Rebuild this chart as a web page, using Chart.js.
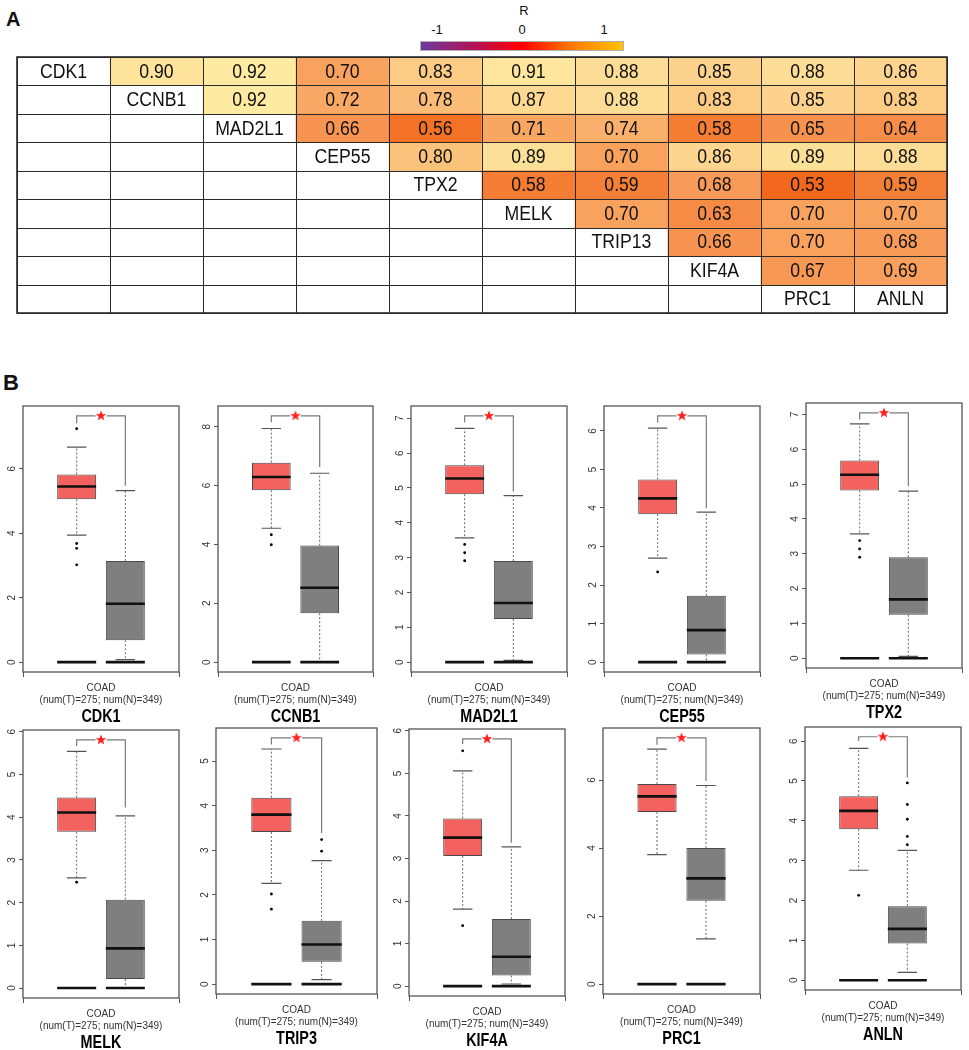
<!DOCTYPE html>
<html><head><meta charset="utf-8">
<script src="https://cdn.jsdelivr.net/npm/chart.js@4.4.1/dist/chart.umd.min.js"></script>
<style>
html,body{margin:0;padding:0;background:#fff;width:969px;height:1050px;overflow:hidden;font-family:'Liberation Sans',Arial,sans-serif;}
.abs{position:absolute;}
.lbl{position:absolute;color:#111;text-align:center;}
</style></head><body>
<div class="lbl" style="left:6px;top:8px;font-size:20px;font-weight:bold;">A</div>
<div class="lbl" style="left:3px;top:370px;font-size:22px;font-weight:bold;">B</div>
<div class="lbl" style="left:504px;top:3px;width:40px;font-size:13px;">R</div>
<div class="lbl" style="left:417px;top:22px;width:40px;font-size:13px;">-1</div>
<div class="lbl" style="left:502px;top:22px;width:40px;font-size:13px;">0</div>
<div class="lbl" style="left:584px;top:22px;width:40px;font-size:13px;">1</div>
<div class="abs" style="left:420px;top:41px;width:202px;height:8px;border:1px solid #b0b0b0;background:linear-gradient(to right,#6b3a9c 0%,#b0135a 25%,#ff0000 50%,#ff7a00 75%,#ffc40a 100%);"></div>
<div class="abs" style="left:16px;top:56px;width:932px;height:258px;"><canvas id="heat"></canvas></div>
<script>
// ---------- Panel A data ----------
const GENES_A = ['CDK1','CCNB1','MAD2L1','CEP55','TPX2','MELK','TRIP13','KIF4A','PRC1','ANLN'];
const LABEL_ROW = [0,1,2,3,4,5,6,7,8,8];
const CORR_ROWS = [
  [0.90,0.92,0.70,0.83,0.91,0.88,0.85,0.88,0.86],
  [0.92,0.72,0.78,0.87,0.88,0.83,0.85,0.83],
  [0.66,0.56,0.71,0.74,0.58,0.65,0.64],
  [0.80,0.89,0.70,0.86,0.89,0.88],
  [0.58,0.59,0.68,0.53,0.59],
  [0.70,0.63,0.70,0.70],
  [0.66,0.70,0.68],
  [0.67,0.69]
];

// ---------- Panel B data ----------
const GENES_B = ['CDK1','CCNB1','MAD2L1','CEP55','TPX2','MELK','TRIP3','KIF4A','PRC1','ANLN'];
const XLABEL = ['COAD','(num(T)=275; num(N)=349)'];
const T_LO  = [3.94,4.55,3.57,2.70,3.57,2.58,2.26,1.81,3.81,2.76];
const T_Q1  = [5.05,5.84,4.82,3.84,4.82,3.66,3.41,3.06,5.06,3.79];
const T_MED = [5.45,6.29,5.27,4.25,5.27,4.11,3.80,3.49,5.52,4.25];
const T_Q3  = [5.82,6.78,5.65,4.74,5.68,4.46,4.18,3.94,5.88,4.62];
const T_HI  = [6.67,7.94,6.71,6.07,6.73,5.54,5.27,5.06,6.91,5.82];
const N_LO  = [0.08,0.02,0.05,0.00,0.05,0.00,0.10,0.05,1.33,0.20];
const N_Q1  = [0.68,1.66,1.24,0.20,1.25,0.21,0.50,0.25,2.45,0.92];
const N_MED = [1.81,2.53,1.70,0.83,1.69,0.93,0.89,0.69,3.11,1.29];
const N_Q3  = [3.14,3.96,2.90,1.72,2.90,2.07,1.42,1.58,4.00,1.86];
const N_HI  = [5.32,6.42,4.78,3.89,4.80,4.03,2.77,3.27,5.84,3.26];
const T_OUT = [[7.24,3.68,3.53,3.02],[4.33,3.99],[3.38,3.14,2.91],[2.34],[3.38,3.14,2.90],[2.48],[2.02,1.68],[5.53,1.42],[],[2.13]];
const N_OUT = [[],[],[],[],[],[],[3.24,2.98],[],[],[4.95,4.41,4.04,3.61,3.40]];
const SIG_TOP = [7.64,8.37,7.07,6.39,7.05,5.81,5.52,5.81,7.24,6.11];
const SIG_T   = [7.41,8.15,6.88,6.22,6.86,5.67,5.37,5.69,7.04,6.00];
const SIG_N   = [5.47,6.63,4.90,3.99,4.94,4.23,3.39,3.37,5.97,5.09];
const Y_TICKS = [[0,2,4,6],[0,2,4,6,8],[0,1,2,3,4,5,6,7],[0,1,2,3,4,5,6],[0,1,2,3,4,5,6,7],
                 [0,1,2,3,4,5,6],[0,1,2,3,4,5],[0,1,2,3,4,5,6],[0,2,4,6],[0,1,2,3,4,5,6]];

// ---------- layout / style ----------
const FRAMES = [[23,403,183,672],[218,403,377,672],[411,403,571,672],[604,403,764,672],[806,400,966,668],
                [23,727,183,998],[216,725,381,994],[409,726,569,996],[603,725,764,994],[805,724,965,990]];
const POS_T = 0.344, POS_N = 0.656, HALF = 0.125, CAP = 0.0625;
const HEAT_STOPS = [[0.53,'#f2691e'],[0.56,'#f47226'],[0.58,'#f47c33'],[0.66,'#f79452'],[0.70,'#f8a25e'],
                    [0.74,'#f9b06b'],[0.80,'#fbc27b'],[0.85,'#fdd28c'],[0.88,'#fddc95'],[0.92,'#feeaa0']];
Chart.defaults.font.family = "'Liberation Sans', Arial, sans-serif";

function hex(c){return [1,3,5].map(k=>parseInt(c.substr(k,2),16));}
function heat(v){
  const s = HEAT_STOPS;
  if (v <= s[0][0]) return s[0][1];
  for (let k=1;k<s.length;k++){
    if (v <= s[k][0]){
      const t=(v-s[k-1][0])/(s[k][0]-s[k-1][0]);
      const a=hex(s[k-1][1]), b=hex(s[k][1]);
      return 'rgb('+a.map((x,j)=>Math.round(x+(b[j]-x)*t)).join(',')+')';
    }
  }
  return s[s.length-1][1];
}

// ---------- Panel A chart ----------
const cellData = [];
CORR_ROWS.forEach((row,r)=>row.forEach((v,j)=>cellData.push({x:r+1+j+0.5,y:[r,r+1],v:v})));
const labelData = GENES_A.map((g,c)=>({x:c+0.5,y:[LABEL_ROW[c],LABEL_ROW[c]+1],g:g}));

const tablePlugin = {id:'table', afterDatasetsDraw(chart){
  const ctx=chart.ctx, sx=chart.scales.x, sy=chart.scales.y, a=chart.chartArea;
  ctx.save();
  ctx.strokeStyle='#2a2a2a'; ctx.lineWidth=1;
  for(let c=0;c<=10;c++){const x=Math.round(sx.getPixelForValue(c))+0.5;ctx.beginPath();ctx.moveTo(x,a.top);ctx.lineTo(x,a.bottom);ctx.stroke();}
  for(let r=0;r<=9;r++){const y=Math.round(sy.getPixelForValue(r))+0.5;ctx.beginPath();ctx.moveTo(a.left,y);ctx.lineTo(a.right,y);ctx.stroke();}
  ctx.lineWidth=1.6; ctx.strokeRect(a.left,a.top,a.right-a.left,a.bottom-a.top);
  ctx.fillStyle='#111'; ctx.textAlign='center'; ctx.textBaseline='middle';
  ctx.font="19px 'Liberation Sans', Arial";
  const put=(t,x,y)=>{ctx.save();ctx.translate(x,y);ctx.scale(0.93,1.05);ctx.fillText(t,0,0);ctx.restore();};
  cellData.forEach(d=>put(d.v.toFixed(2),sx.getPixelForValue(d.x),sy.getPixelForValue(d.y[0]+0.5)+1));
  labelData.forEach(d=>put(d.g,sx.getPixelForValue(d.x),sy.getPixelForValue(d.y[0]+0.5)+1));
  ctx.restore();
}};

new Chart(document.getElementById('heat'),{
  type:'bar',
  data:{datasets:[
    {data:cellData,backgroundColor:c=>c.raw?heat(c.raw.v):'#fff',grouped:false,categoryPercentage:1,barPercentage:1,borderWidth:0,borderSkipped:false},
    {data:labelData,backgroundColor:'#ffffff',grouped:false,categoryPercentage:1,barPercentage:1,borderWidth:0,borderSkipped:false}
  ]},
  options:{responsive:true,maintainAspectRatio:false,animation:false,
    layout:{padding:1},
    plugins:{legend:{display:false},tooltip:{enabled:false}},
    scales:{
      x:{type:'linear',min:0,max:10,display:false,offset:false,ticks:{stepSize:1}},
      y:{type:'linear',min:0,max:9,reverse:true,display:false,ticks:{stepSize:1}}
    }},
  plugins:[tablePlugin]
});

// ---------- Panel B charts ----------
function starImg(){
  const c=document.createElement('canvas'); c.width=c.height=12;
  const g=c.getContext('2d'); g.fillStyle='#ff1f1f'; g.beginPath();
  for(let k=0;k<10;k++){const r=k%2?2.3:5.6;const a=-Math.PI/2+k*Math.PI/5;g.lineTo(6+r*Math.cos(a),6+r*Math.sin(a));}
  g.closePath(); g.fill(); return c;
}
const STAR = starImg();

const framePlugin = {id:'frame', afterDraw(chart){
  const ctx=chart.ctx, a=chart.chartArea, s=chart.scales.y;
  ctx.save();
  ctx.strokeStyle='#555'; ctx.lineWidth=1.3;
  ctx.strokeRect(a.left,a.top,a.right-a.left,a.bottom-a.top);
  ctx.fillStyle='#333'; ctx.font="10px 'Liberation Sans', Arial"; ctx.textAlign='center'; ctx.textBaseline='middle';
  s.ticks.forEach(t=>{const y=s.getPixelForValue(t.value);ctx.save();ctx.translate(a.left-11,y);ctx.rotate(-Math.PI/2);ctx.fillText(String(t.value),0,0);ctx.restore();});
  const name=chart.options.plugins.frame.name;
  ctx.fillStyle='#000'; ctx.font="bold 18px 'Liberation Sans', Arial";
  ctx.translate((a.left+a.right)/2, a.bottom+45); ctx.scale(0.8,1.05);
  ctx.fillText(name,0,0);
  ctx.restore();
}};

function lineDs(data,color,width,order,dash){
  return {type:'line',data:data,borderColor:color,borderWidth:width,pointRadius:0,borderDash:dash||[],spanGaps:false,order:order,fill:false,tension:0};
}

function makeBox(i){
  const [L,T,R,B]=FRAMES[i];
  const padTop=4, yW=23, padR=3, xH=40, bottomPad=16;
  const w=yW+(R-L)+padR, h=padTop+(B-T)+xH+bottomPad;
  const div=document.createElement('div'); div.className='abs';
  div.style.cssText='left:'+(L-yW)+'px;top:'+(T-padTop)+'px;width:'+w+'px;height:'+h+'px;';
  const cv=document.createElement('canvas'); div.appendChild(cv); document.body.appendChild(div);
  const xt=POS_T, xn=POS_N;
  const gap=(x)=>({x:x,y:null});
  const whisk=[{x:xt,y:T_Q3[i]},{x:xt,y:T_HI[i]},gap(xt),{x:xt,y:T_Q1[i]},{x:xt,y:T_LO[i]},gap(xt),
               {x:xn,y:N_Q3[i]},{x:xn,y:N_HI[i]},gap(xn),{x:xn,y:N_Q1[i]},{x:xn,y:N_LO[i]}];
  const capSeg=(x,y)=>[{x:x-CAP,y:y},{x:x+CAP,y:y},gap(x)];
  const caps=[].concat(capSeg(xt,T_HI[i]),capSeg(xt,T_LO[i]),capSeg(xn,N_HI[i]),capSeg(xn,N_LO[i]));
  const hSeg=(x,y)=>[{x:x-HALF,y:y},{x:x+HALF,y:y},gap(x)];
  const meds=[].concat(hSeg(xt,T_MED[i]),hSeg(xn,N_MED[i]));
  const zeros=[].concat(hSeg(xt,0),hSeg(xn,0));
  const bracket=[{x:xt,y:SIG_T[i]},{x:xt,y:SIG_TOP[i]},{x:0.465,y:SIG_TOP[i]},gap(0.5),
                 {x:0.535,y:SIG_TOP[i]},{x:xn,y:SIG_TOP[i]},{x:xn,y:SIG_N[i]}];
  const outs=T_OUT[i].map(v=>({x:xt,y:v})).concat(N_OUT[i].map(v=>({x:xn,y:v})));
  new Chart(cv,{
    type:'bar',
    data:{datasets:[
      {type:'bar',data:[{x:xt,y:[T_Q1[i],T_Q3[i]]},{x:xn,y:[N_Q1[i],N_Q3[i]]}],
       backgroundColor:['#f4625f','#7f7f7f'],borderColor:'#4a4a4a',borderWidth:1,borderSkipped:false,
       categoryPercentage:1,barPercentage:0.8,order:10},
      lineDs(whisk,'#666',1,11,[2,2]),
      lineDs(caps,'#555',1.2,9),
      lineDs(zeros,'#111',2.6,8),
      lineDs(meds,'#111',2.6,7),
      {type:'scatter',data:outs,pointRadius:1.4,pointBackgroundColor:'#000',pointBorderWidth:0,order:6},
      lineDs(bracket,'#7a7a7a',1.2,5),
      {type:'scatter',data:[{x:0.5,y:SIG_TOP[i]}],pointStyle:STAR,pointRadius:6,order:4}
    ]},
    options:{responsive:true,maintainAspectRatio:false,animation:false,
      layout:{padding:{left:0,right:padR,top:padTop,bottom:bottomPad}},
      plugins:{legend:{display:false},tooltip:{enabled:false},frame:{name:GENES_B[i]}},
      scales:{
        x:{type:'linear',min:0,max:1,offset:false,
           afterBuildTicks:s=>{s.ticks=[{value:0.5}];},
           afterFit:s=>{s.height=xH;},
           ticks:{callback:()=>XLABEL,font:{size:10,lineHeight:1.2},color:'#333',padding:5,maxRotation:0,minRotation:0,autoSkip:false},
           grid:{display:true,drawOnChartArea:false,drawTicks:true,tickLength:5,color:'#555'},
           border:{display:false}},
        y:{type:'linear',min:-0.04*SIG_TOP[i],max:1.04*SIG_TOP[i],
           afterBuildTicks:s=>{s.ticks=Y_TICKS[i].map(v=>({value:v}));},
           afterFit:s=>{s.width=yW;},
           ticks:{display:false},
           grid:{display:true,drawOnChartArea:false,drawTicks:true,tickLength:4,color:'#555'},
           border:{display:false}}
      }},
    plugins:[framePlugin]
  });
}
for(let i=0;i<GENES_B.length;i++) makeBox(i);
</script>
</body></html>
